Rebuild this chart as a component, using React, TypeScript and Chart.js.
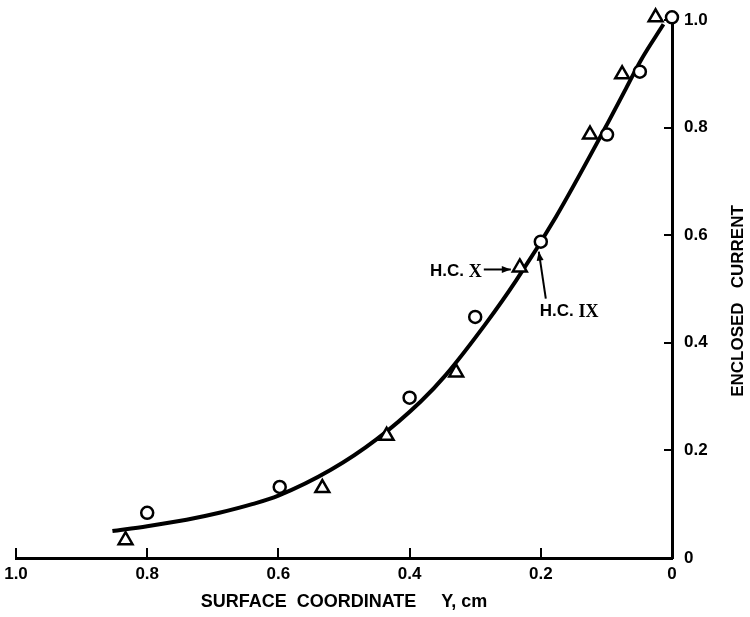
import { useEffect, useRef } from 'react';
import { Chart, registerables } from 'chart.js';

Chart.register(...registerables);

// ---- data ----
const hc9X = [0.80, 0.598, 0.40, 0.30, 0.20, 0.099, 0.049, 0.0];
const hc9Y = [0.084, 0.132, 0.298, 0.448, 0.588, 0.787, 0.904, 1.005];

const hc10X = [0.833, 0.533, 0.435, 0.329, 0.232, 0.125, 0.076, 0.025];
const hc10Y = [0.033, 0.13, 0.227, 0.345, 0.54, 0.787, 0.899, 1.005];

const curveX = [0.013, 0.048, 0.070, 0.103, 0.177, 0.238, 0.283, 0.345, 0.383, 0.45, 0.52, 0.60, 0.64, 0.69, 0.74, 0.80, 0.853];
const curveY = [0.992, 0.924, 0.873, 0.797, 0.634, 0.515, 0.437, 0.340, 0.291, 0.221, 0.164, 0.116, 0.100, 0.084, 0.071, 0.059, 0.050];

const xTicks = [0, 0.2, 0.4, 0.6, 0.8, 1.0];
const xTickLabels = ['0', '0.2', '0.4', '0.6', '0.8', '1.0'];
const yTicks = [0, 0.2, 0.4, 0.6, 0.8, 1.0];
const yTickLabels = ['0', '0.2', '0.4', '0.6', '0.8', '1.0'];

const xTitle = 'SURFACE  COORDINATE     Y, cm';
const yTitle = 'ENCLOSED   CURRENT';
const labelIX = ['H.C. ', 'IX'];
const labelX = ['H.C. ', 'X'];

const FONT = '"Liberation Sans", "DejaVu Sans", sans-serif';

const zip = (xs: number[], ys: number[]) => xs.map((x, i) => ({ x, y: ys[i] }));

function drawArrow(ctx: CanvasRenderingContext2D, x1: number, y1: number, x2: number, y2: number) {
  ctx.beginPath();
  ctx.moveTo(x1, y1);
  ctx.lineTo(x2, y2);
  ctx.stroke();
  const ang = Math.atan2(y2 - y1, x2 - x1);
  const len = 9, half = 3.5;
  ctx.beginPath();
  ctx.moveTo(x2, y2);
  ctx.lineTo(x2 - len * Math.cos(ang) + half * Math.sin(ang), y2 - len * Math.sin(ang) - half * Math.cos(ang));
  ctx.lineTo(x2 - len * Math.cos(ang) - half * Math.sin(ang), y2 - len * Math.sin(ang) + half * Math.cos(ang));
  ctx.closePath();
  ctx.fill();
}

function drawLabel(ctx: CanvasRenderingContext2D, parts: string[], x: number, y: number, align: 'left' | 'right') {
  const f1 = `bold 17px ${FONT}`;
  const f2 = 'bold 18px "Liberation Serif", "DejaVu Serif", serif';
  ctx.font = f1;
  const w1 = ctx.measureText(parts[0]).width;
  ctx.font = f2;
  const w2 = ctx.measureText(parts[1]).width;
  const start = align === 'left' ? x : x - w1 - w2;
  ctx.textAlign = 'left';
  ctx.textBaseline = 'middle';
  ctx.font = f1;
  ctx.fillText(parts[0], start, y);
  ctx.font = f2;
  ctx.fillText(parts[1], start + w1, y + 1);
}

const annotations = {
  id: 'annotations',
  afterDraw(chart: any) {
    const { ctx, scales, chartArea } = chart;
    const xs = scales.x, ys = scales.y;
    ctx.save();
    ctx.fillStyle = '#000';
    ctx.strokeStyle = '#000';
    ctx.lineWidth = 2;

    // y-axis title, reading bottom to top
    ctx.save();
    ctx.translate(chartArea.right + 66, (chartArea.top + chartArea.bottom) / 2 + 12);
    ctx.rotate(-Math.PI / 2);
    ctx.font = `bold 17px ${FONT}`;
    ctx.textAlign = 'center';
    ctx.textBaseline = 'middle';
    ctx.fillText(yTitle, 0, 0);
    ctx.restore();

    // H.C. X -> triangle
    const tx = xs.getPixelForValue(hc10X[4]);
    const ty = ys.getPixelForValue(hc10Y[4]);
    drawArrow(ctx, tx - 36, ty + 2, tx - 9, ty + 2);
    drawLabel(ctx, labelX, tx - 38, ty + 4, 'right');

    // H.C. IX -> circle
    const cx = xs.getPixelForValue(hc9X[4]);
    const cy = ys.getPixelForValue(hc9Y[4]);
    drawArrow(ctx, cx + 5, cy + 57, cx - 2, cy + 10);
    drawLabel(ctx, labelIX, cx - 1, cy + 70, 'left');

    ctx.restore();
  },
};

export default function App() {
  const ref = useRef<HTMLCanvasElement | null>(null);

  useEffect(() => {
    if (!ref.current) return;
    const tickFont = { family: FONT, size: 17, weight: 'bold' as const };
    const chart = new Chart(ref.current, {
      type: 'scatter',
      data: {
        datasets: [
          {
            label: 'H.C. IX',
            data: zip(hc9X, hc9Y),
            pointStyle: 'circle',
            pointRadius: 6,
            borderWidth: 2.5,
            borderColor: '#000',
            backgroundColor: '#fff',
            clip: false as any,
            order: 1,
          },
          {
            label: 'H.C. X',
            data: zip(hc10X, hc10Y),
            pointStyle: 'triangle',
            pointRadius: 8,
            borderWidth: 2.5,
            borderColor: '#000',
            backgroundColor: '#fff',
            clip: false as any,
            order: 1,
          },
          {
            label: 'curve',
            data: zip(curveX, curveY),
            showLine: true,
            pointRadius: 0,
            borderColor: '#000',
            borderWidth: 4,
            cubicInterpolationMode: 'monotone',
            fill: false,
            clip: false as any,
            order: 3,
          },
        ],
      },
      plugins: [annotations],
      options: {
        responsive: false,
        animation: false,
        events: [],
        layout: { padding: { left: 16, top: 20, right: 0, bottom: 0 } },
        plugins: { legend: { display: false }, tooltip: { enabled: false } },
        scales: {
          x: {
            type: 'linear',
            reverse: true,
            min: 0,
            max: 1,
            afterBuildTicks: (s: any) => { s.ticks = xTicks.map((v) => ({ value: v })); },
            afterFit: (s: any) => { s.height = 59; s.paddingLeft = 0; s.paddingRight = 0; },
            grid: { drawOnChartArea: false, drawTicks: true, tickLength: -10, color: '#000', lineWidth: 2 },
            border: { display: true, color: '#000', width: 3 },
            ticks: {
              callback: (_v: any, i: number) => xTickLabels[i],
              color: '#000',
              font: tickFont,
              padding: 16,
              maxRotation: 0,
              autoSkip: false,
            },
            title: {
              display: true,
              text: xTitle,
              color: '#000',
              font: { family: FONT, size: 18, weight: 'bold' },
              padding: { top: 0, bottom: 4 },
            },
          },
          y: {
            type: 'linear',
            position: 'right',
            min: 0,
            max: 1,
            afterBuildTicks: (s: any) => { s.ticks = yTicks.map((v) => ({ value: v })); },
            afterFit: (s: any) => { s.width = 78; s.paddingTop = 0; s.paddingBottom = 0; },
            grid: { drawOnChartArea: false, drawTicks: true, tickLength: -8, color: '#000', lineWidth: 2 },
            border: { display: true, color: '#000', width: 3 },
            ticks: {
              callback: (_v: any, i: number) => yTickLabels[i],
              color: '#000',
              font: tickFont,
              padding: 20,
              autoSkip: false,
            },
          },
        },
      } as any,
    });
    return () => chart.destroy();
  }, []);

  return (
    <div style={{ position: 'absolute', left: 0, top: 0, width: 750, height: 617, background: '#fff' }}>
      <canvas ref={ref} width={750} height={617} style={{ width: 750, height: 617, display: 'block' }} />
    </div>
  );
}
